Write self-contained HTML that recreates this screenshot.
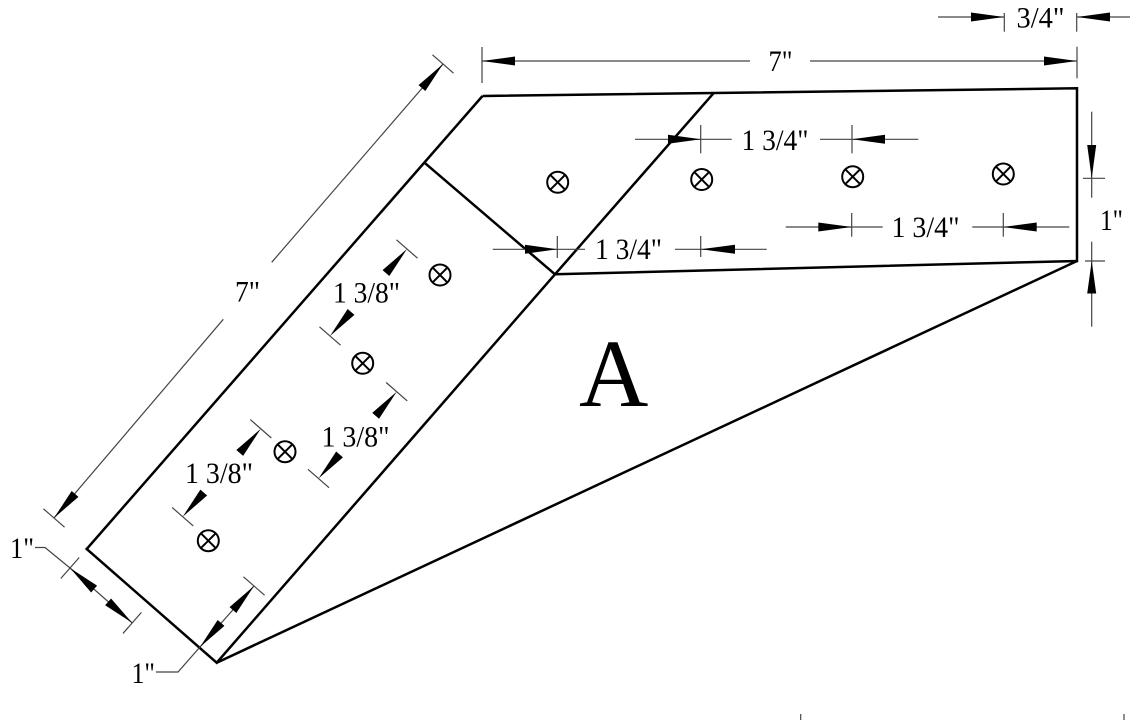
<!DOCTYPE html>
<html>
<head>
<meta charset="utf-8">
<style>
html,body{margin:0;padding:0;background:#fff;}
svg{display:block;}
text{font-family:"Liberation Serif","Times New Roman",serif;fill:#000;}
</style>
</head>
<body>
<svg width="1130" height="720" viewBox="0 0 1130 720" xmlns="http://www.w3.org/2000/svg">
<rect width="1130" height="720" fill="#fff"/>

<!-- Main outline -->
<g fill="none" stroke="#000" stroke-width="2.5" stroke-linejoin="miter">
  <polyline points="482.5,96 1077,88.3 1077,261 555,274.3"/>
  <polyline points="482.5,96 86.7,549 216.7,662.7 555,274.3"/>
  <line x1="216.7" y1="662.7" x2="1077" y2="261"/>
  <line x1="714" y1="92.7" x2="555" y2="274.3"/>
  <line x1="424.5" y1="162.7" x2="555" y2="274.3"/>
</g>

<!-- Bolts -->
<g fill="none" stroke="#000" stroke-width="2">
  <g transform="translate(557.7,182.3)"><circle r="10.5"/><line x1="-7.4" y1="-7.4" x2="7.4" y2="7.4"/><line x1="-7.4" y1="7.4" x2="7.4" y2="-7.4"/></g>
  <g transform="translate(701.7,179.5)"><circle r="10.5"/><line x1="-7.4" y1="-7.4" x2="7.4" y2="7.4"/><line x1="-7.4" y1="7.4" x2="7.4" y2="-7.4"/></g>
  <g transform="translate(852.7,176.7)"><circle r="10.5"/><line x1="-7.4" y1="-7.4" x2="7.4" y2="7.4"/><line x1="-7.4" y1="7.4" x2="7.4" y2="-7.4"/></g>
  <g transform="translate(1003.3,174)"><circle r="10.5"/><line x1="-7.4" y1="-7.4" x2="7.4" y2="7.4"/><line x1="-7.4" y1="7.4" x2="7.4" y2="-7.4"/></g>
  <g transform="translate(440,275)"><circle r="10.5"/><line x1="-7.4" y1="-7.4" x2="7.4" y2="7.4"/><line x1="-7.4" y1="7.4" x2="7.4" y2="-7.4"/></g>
  <g transform="translate(362.7,363.3)"><circle r="10.5"/><line x1="-7.4" y1="-7.4" x2="7.4" y2="7.4"/><line x1="-7.4" y1="7.4" x2="7.4" y2="-7.4"/></g>
  <g transform="translate(285,451.7)"><circle r="10.5"/><line x1="-7.4" y1="-7.4" x2="7.4" y2="7.4"/><line x1="-7.4" y1="7.4" x2="7.4" y2="-7.4"/></g>
  <g transform="translate(208.3,540.7)"><circle r="10.5"/><line x1="-7.4" y1="-7.4" x2="7.4" y2="7.4"/><line x1="-7.4" y1="7.4" x2="7.4" y2="-7.4"/></g>
</g>

<!-- Thin dimension lines -->
<g fill="none" stroke="#444" stroke-width="1.2">
  <!-- top 7" -->
  <line x1="482" y1="47" x2="482" y2="83"/>
  <line x1="1077" y1="46.7" x2="1077" y2="78.3"/>
  <line x1="482" y1="61" x2="750" y2="61"/>
  <line x1="810" y1="61" x2="1077" y2="61"/>
  <!-- 3/4" -->
  <line x1="938" y1="17" x2="1004" y2="17"/>
  <line x1="1004.3" y1="13" x2="1004.3" y2="31.7"/>
  <line x1="1076.7" y1="13" x2="1076.7" y2="31.7"/>
  <line x1="1077" y1="17" x2="1130" y2="17"/>
  <!-- upper 1 3/4" -->
  <line x1="635" y1="139.3" x2="731.7" y2="139.3"/>
  <line x1="700.7" y1="125" x2="700.7" y2="153.3"/>
  <line x1="820" y1="139.3" x2="918.3" y2="139.3"/>
  <line x1="852" y1="125" x2="852" y2="153.3"/>
  <!-- lower-left 1 3/4" -->
  <line x1="492.7" y1="249.3" x2="585" y2="249.3"/>
  <line x1="557.3" y1="236" x2="557.3" y2="258"/>
  <line x1="675" y1="249.3" x2="766.7" y2="249.3"/>
  <line x1="700.7" y1="236" x2="700.7" y2="257"/>
  <!-- mid-right 1 3/4" -->
  <line x1="785.7" y1="227" x2="882.7" y2="227"/>
  <line x1="851.7" y1="213" x2="851.7" y2="236.7"/>
  <line x1="972.3" y1="227" x2="1069.3" y2="227"/>
  <line x1="1003.3" y1="213" x2="1003.3" y2="236.7"/>
  <!-- right 1" -->
  <line x1="1091.7" y1="111.7" x2="1091.7" y2="197.7"/>
  <line x1="1083" y1="178.3" x2="1105" y2="178.3"/>
  <line x1="1091.7" y1="241.7" x2="1091.7" y2="326.7"/>
  <line x1="1085" y1="261" x2="1105" y2="261"/>
  <!-- long 7" -->
  <line x1="443" y1="64" x2="271.7" y2="262.3"/>
  <line x1="223.3" y1="319.3" x2="54" y2="518"/>
  <line x1="432.46" y1="54.79" x2="453.54" y2="73.21"/>
  <line x1="43.46" y1="508.79" x2="64.54" y2="527.21"/>
  <!-- 1 3/8 ticks -->
  <line x1="396.46" y1="239.79" x2="417.54" y2="258.21"/>
  <line x1="319.46" y1="326.79" x2="340.54" y2="345.21"/>
  <line x1="386.16" y1="382.49" x2="407.24" y2="400.91"/>
  <line x1="307.96" y1="469.29" x2="329.04" y2="487.71"/>
  <line x1="250.26" y1="419.59" x2="271.34" y2="438.01"/>
  <line x1="172.16" y1="507.49" x2="193.24" y2="525.91"/>
  <!-- left 1" -->
  <polyline points="35,547.5 45,547.5 70,568 132.2,622.9"/>
  <line x1="60.79" y1="578.54" x2="79.21" y2="557.46"/>
  <line x1="122.99" y1="633.44" x2="141.41" y2="612.36"/>
  <!-- bottom 1" -->
  <polyline points="254,586 200,647 178,672 156,672"/>
  <line x1="243.46" y1="576.79" x2="264.54" y2="595.21"/>
  <!-- bottom edge tiny ticks -->
  <line x1="800.7" y1="714" x2="800.7" y2="720"/>
  <line x1="1124" y1="714" x2="1124" y2="720"/>
</g>

<!-- Arrowheads -->
<g fill="#000" stroke="none">
  <polygon points="482,61 515,56.5 515,65.5"/>
  <polygon points="1077,61 1044,56.5 1044,65.5"/>
  <polygon points="1004,17 971,12.5 971,21.5"/>
  <polygon points="1077,17 1110,12.5 1110,21.5"/>
  <polygon points="701,139.3 668,134.8 668,143.8"/>
  <polygon points="852,139.3 885,134.8 885,143.8"/>
  <polygon points="557.3,249.3 525,244.8 525,253.8"/>
  <polygon points="700.7,249.3 735,244.8 735,253.8"/>
  <polygon points="851.7,227 818.3,222.5 818.3,231.5"/>
  <polygon points="1003.3,227 1036.7,222.5 1036.7,231.5"/>
  <polygon points="1091.7,178.3 1087.2,145 1096.2,145"/>
  <polygon points="1091.7,261 1087.2,293.5 1096.2,293.5"/>
  <!-- long 7" -->
  <polygon points="443,64 425.33,91.06 418.55,85.14"/>
  <polygon points="54,518 78.45,496.86 71.67,490.94"/>
  <!-- 1 3/8 top -->
  <polygon points="407,249 389.33,276.06 382.55,270.14"/>
  <polygon points="330,336 354.45,314.86 347.67,308.94"/>
  <!-- 1 3/8 mid-right -->
  <polygon points="396.7,391.7 379.03,418.76 372.25,412.84"/>
  <polygon points="318.5,478.5 342.95,457.36 336.17,451.44"/>
  <!-- 1 3/8 left-lower -->
  <polygon points="260.8,428.8 243.13,455.86 236.35,449.94"/>
  <polygon points="182.7,516.7 207.15,495.56 200.37,489.64"/>
  <!-- left 1" -->
  <polygon points="70,568 97.06,585.67 91.14,592.45"/>
  <polygon points="132.2,622.9 111.06,598.45 105.14,605.23"/>
  <!-- bottom 1" -->
  <polygon points="254,586 236.33,613.06 229.55,607.14"/>
  <polygon points="200,647 224.45,625.86 217.67,619.94"/>
</g>

<!-- Labels -->
<g font-size="29.5">
  <text x="768.5" y="71" textLength="24" lengthAdjust="spacingAndGlyphs">7"</text>
  <text x="1016.5" y="27.5" textLength="48" lengthAdjust="spacingAndGlyphs">3/4"</text>
  <text x="741.5" y="150" textLength="67" lengthAdjust="spacingAndGlyphs">1 3/4"</text>
  <text x="595" y="259" textLength="67" lengthAdjust="spacingAndGlyphs">1 3/4"</text>
  <text x="891.5" y="237" textLength="68" lengthAdjust="spacingAndGlyphs">1 3/4"</text>
  <text x="1100" y="230" textLength="23" lengthAdjust="spacingAndGlyphs">1"</text>
  <text x="235" y="301.5" textLength="25" lengthAdjust="spacingAndGlyphs">7"</text>
  <text x="333" y="302.5" textLength="67" lengthAdjust="spacingAndGlyphs">1 3/8"</text>
  <text x="321.5" y="446.5" textLength="68" lengthAdjust="spacingAndGlyphs">1 3/8"</text>
  <text x="185" y="483" textLength="68" lengthAdjust="spacingAndGlyphs">1 3/8"</text>
  <text x="10" y="558" textLength="24" lengthAdjust="spacingAndGlyphs">1"</text>
  <text x="131.5" y="683" textLength="23.5" lengthAdjust="spacingAndGlyphs">1"</text>
</g>
<text x="579" y="406" font-size="96">A</text>
</svg>
</body>
</html>
